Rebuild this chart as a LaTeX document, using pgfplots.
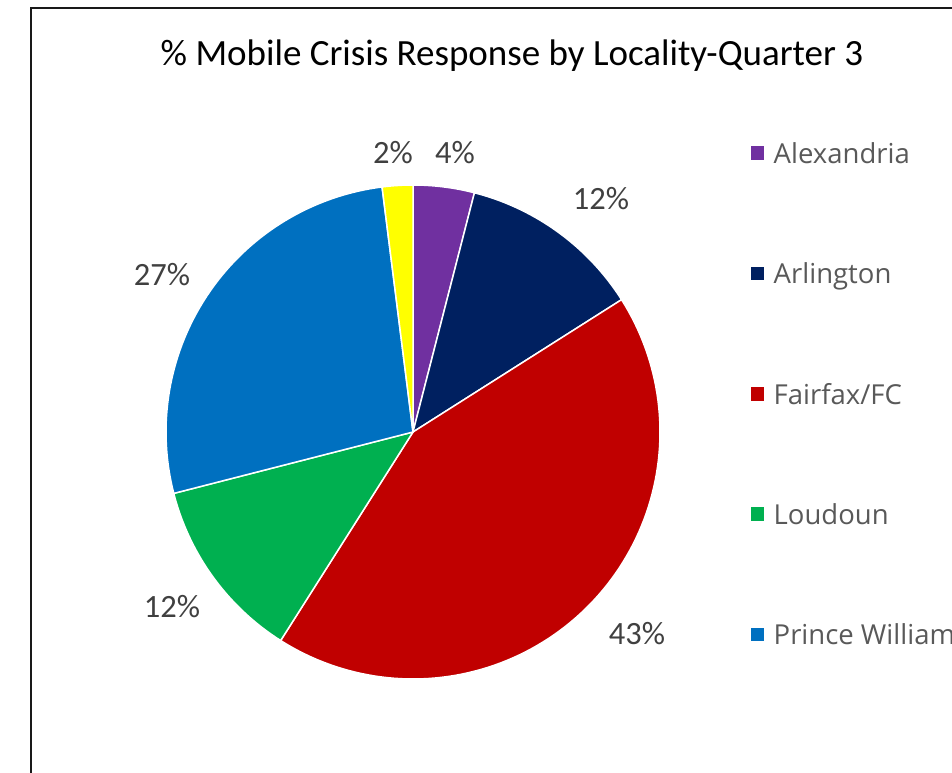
\documentclass[border=0pt]{standalone}
\usepackage{pgfplots}
\pgfplotsset{compat=1.18}
\usepackage{fontspec}
\setmainfont{Carlito}
\newfontfamily\legfont{Open Sans}
\definecolor{cAlex}{HTML}{7030A0}
\definecolor{cArl}{HTML}{002060}
\definecolor{cFair}{HTML}{C00000}
\definecolor{cLoud}{HTML}{00B050}
\definecolor{cPW}{HTML}{0070C0}
\definecolor{cOther}{HTML}{FFFF00}
\definecolor{labgray}{HTML}{404040}
\definecolor{leggray}{HTML}{595959}
% shares (percent), clockwise from 12 o'clock
\def\vA{4}\def\vB{12}\def\vC{43}\def\vD{12}\def\vE{27}\def\vF{2}
\def\cx{413}\def\cy{340}\def\rr{247}
\begin{document}
\begin{tikzpicture}
\begin{axis}[
  scale only axis, width=952pt, height=772pt,
  xmin=0, xmax=952, ymin=0, ymax=772,
  hide axis, clip=true,
  legend style={draw=none, fill=none, font=\legfont\fontsize{27.5}{32}\selectfont, text=leggray,
    at={(axis cs:749,632)}, anchor=north west, row sep=94pt, inner sep=0pt,
    /tikz/every odd column/.append style={column sep=6pt}},
  legend cell align=left,
  legend image code/.code={\fill[#1] (0pt,-7pt) rectangle (15pt,8pt);},
]
\pgfmathsetmacro{\aA}{90}
\pgfmathsetmacro{\aB}{\aA-3.6*\vA}
\pgfmathsetmacro{\aC}{\aB-3.6*\vB}
\pgfmathsetmacro{\aD}{\aC-3.6*\vC}
\pgfmathsetmacro{\aE}{\aD-3.6*\vD}
\pgfmathsetmacro{\aF}{\aE-3.6*\vE}
\pgfmathsetmacro{\aG}{\aF-3.6*\vF}
\addplot[fill=cAlex, draw=white, line width=1.5pt, domain=\aB:\aA, samples=30, variable=\t]
  ({\cx+\rr*cos(\t)},{\cy+\rr*sin(\t)}) -- (axis cs:\cx,\cy) -- cycle;
\addlegendentry{Alexandria}
\addplot[fill=cArl, draw=white, line width=1.5pt, domain=\aC:\aB, samples=40, variable=\t]
  ({\cx+\rr*cos(\t)},{\cy+\rr*sin(\t)}) -- (axis cs:\cx,\cy) -- cycle;
\addlegendentry{Arlington}
\addplot[fill=cFair, draw=white, line width=1.5pt, domain=\aD:\aC, samples=100, variable=\t]
  ({\cx+\rr*cos(\t)},{\cy+\rr*sin(\t)}) -- (axis cs:\cx,\cy) -- cycle;
\addlegendentry{Fairfax/FC}
\addplot[fill=cLoud, draw=white, line width=1.5pt, domain=\aE:\aD, samples=40, variable=\t]
  ({\cx+\rr*cos(\t)},{\cy+\rr*sin(\t)}) -- (axis cs:\cx,\cy) -- cycle;
\addlegendentry{Loudoun}
\addplot[fill=cPW, draw=white, line width=1.5pt, domain=\aF:\aE, samples=70, variable=\t]
  ({\cx+\rr*cos(\t)},{\cy+\rr*sin(\t)}) -- (axis cs:\cx,\cy) -- cycle;
\addlegendentry{Prince William}
\addplot[fill=cOther, draw=white, line width=1.5pt, domain=\aG:\aF, samples=20, variable=\t, forget plot]
  ({\cx+\rr*cos(\t)},{\cy+\rr*sin(\t)}) -- (axis cs:\cx,\cy) -- cycle;
% frame and bbox
\path (rel axis cs:0,0) rectangle (rel axis cs:1,1);
\draw[line width=2pt, black!90] (axis cs:31,-5) -- (axis cs:31,764) -- (axis cs:960,764);
% title
\node[font=\fontsize{37}{44}\selectfont] at (axis cs:512,716) {\% Mobile Crisis Response by Locality-Quarter 3};
% data labels
\begin{scope}[every node/.style={font=\fontsize{32.5}{38}\selectfont, text=labgray}]
\node at (axis cs:455,619) {\vA\%};
\node at (axis cs:601,573) {\vB\%};
\node at (axis cs:637,138) {\vC\%};
\node at (axis cs:172,165) {\vD\%};
\node at (axis cs:162,497) {\vE\%};
\node at (axis cs:393,619) {\vF\%};
\end{scope}
\end{axis}
\pgfresetboundingbox
\useasboundingbox (current axis.south west) rectangle (current axis.north east);
\end{tikzpicture}
\end{document}
